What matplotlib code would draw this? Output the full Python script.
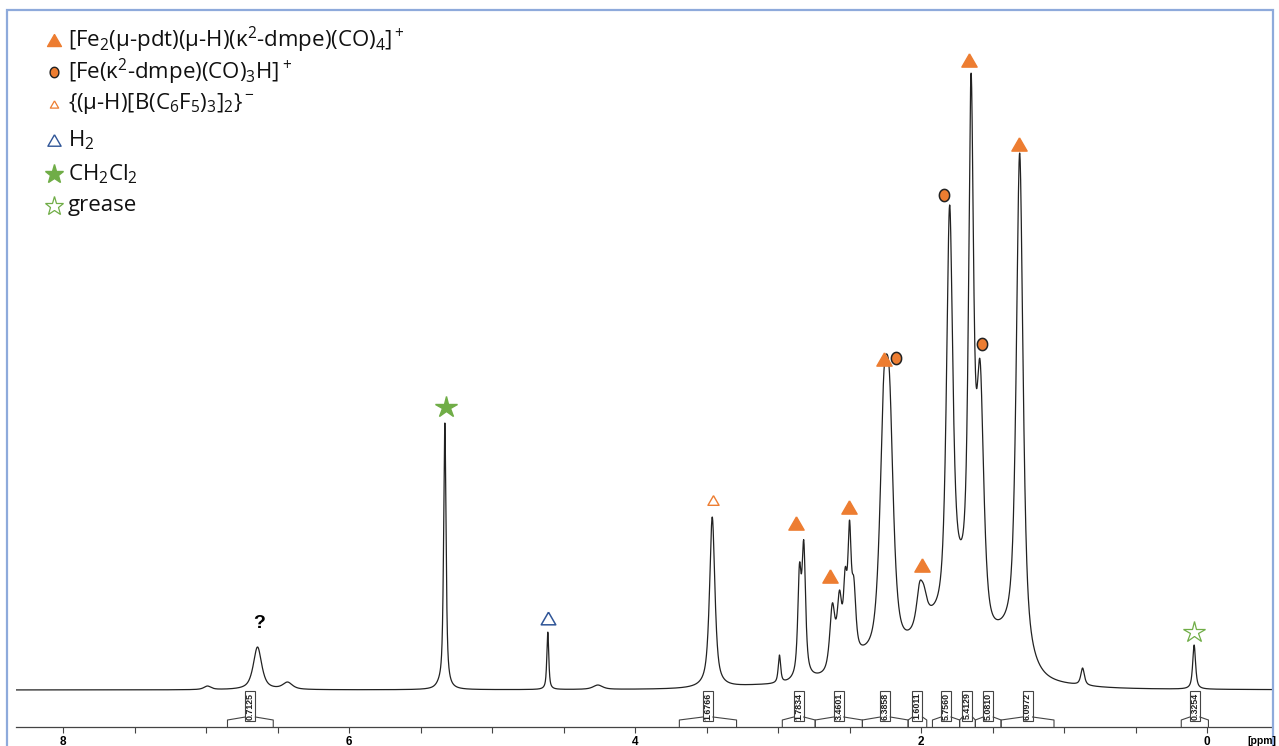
import numpy as np
import matplotlib
matplotlib.use("Agg")
import matplotlib.pyplot as plt
from matplotlib.patches import Rectangle

# ---------------- data ----------------
# signals: chemical shift (ppm), observed height above baseline at that shift (a.u.),
# half width (ppm), Lorentzian fraction of the line shape
peak_ppm = [6.99, 6.64, 6.43, 5.37, 5.33, 4.61, 4.26, 3.46, 3.46, 2.99,
            2.85, 2.82, 2.62, 2.57, 2.53, 2.50, 2.47, 2.26, 2.22, 2.01,
            1.98, 1.80, 1.65, 1.587, 1.31, 0.87, 0.09]
peak_height = [4, 43, 8, 14, 267, 58, 5, 173, 9, 35,
               127, 150, 87, 100, 123, 170, 113, 317, 315, 108,
               105, 485, 617, 330, 537, 22, 45]
peak_hwhm = [0.03, 0.035, 0.04, 0.025, 0.010, 0.008, 0.04, 0.022, 0.15, 0.010,
             0.014, 0.015, 0.022, 0.02, 0.015, 0.014, 0.017, 0.034, 0.034, 0.026,
             0.026, 0.026, 0.021, 0.031, 0.028, 0.015, 0.012]
peak_eta = [0.75] * 27

# broad underlying intensity between the multiplets (observed height at the valleys)
valley_ppm = [3.10, 2.73, 2.41, 2.10, 1.92, 1.73, 1.43, 1.05]
valley_height = [6, 17, 45, 60, 85, 152, 73, 10]
valley_hwhm = [0.3, 0.14, 0.12, 0.12, 0.12, 0.08, 0.15, 0.25]
valley_eta = [0.5, 0.2, 0.2, 0.2, 0.2, 0.2, 0.2, 0.5]

# integrals
integral_start = [6.85, 3.69, 2.97, 2.74, 2.41, 2.09, 1.92, 1.73, 1.62, 1.44, 0.18]
integral_end = [6.53, 3.29, 2.74, 2.41, 2.09, 1.96, 1.73, 1.62, 1.44, 1.07, -0.01]
integral_labels = ["0.7125", "1.6766", "1.7834", "3.4601", "6.3858", "1.6011",
                   "5.7560", "5.4129", "5.0810", "6.0972", "0.3254"]

# assignment markers (ppm, height)
fe2_ppm = [2.873, 2.636, 2.503, 2.259, 1.995, 1.664, 1.315]
fe2_y = [167, 114, 183, 331, 125, 630, 546]
fe1_ppm = [2.178, 1.840, 1.573]
fe1_y = [332, 495, 346]
bh_ppm = [3.455]
bh_y = [190]
h2_ppm = [4.61]
h2_y = [72]
dcm_ppm = [5.325]
dcm_y = [283]
grease_ppm = [0.091]
grease_y = [58]
unknown_ppm = [6.63]
unknown_y = [66]

legend_labels = [
    r"[Fe$_2$(μ-pdt)(μ-H)(κ$^2$-dmpe)(CO)$_4$]$^+$",
    r"[Fe(κ$^2$-dmpe)(CO)$_3$H]$^+$",
    r"{(μ-H)[B(C$_6$F$_5$)$_3$]$_2$}$^-$",
    r"H$_2$",
    r"CH$_2$Cl$_2$",
    "grease",
]

major_ticks = [8, 6, 4, 2, 0]

# ---------------- styling ----------------
plt.rcParams['font.family'] = ['Open Sans', 'DejaVu Sans']
plt.rcParams['mathtext.fontset'] = 'custom'
plt.rcParams['mathtext.rm'] = 'Open Sans'
plt.rcParams['mathtext.it'] = 'Open Sans:italic'
plt.rcParams['mathtext.bf'] = 'Open Sans:bold'

ORANGE = '#ED7D31'
BLUE = '#2F5597'
GREEN = '#70AD47'

W, H = 1279, 746
fig = plt.figure(figsize=(W / 100, H / 100), dpi=100)
ax = fig.add_axes([16 / W, 19 / H, 1256 / W, 707 / H])

# spectrum from the signal list
pp = np.array(peak_ppm + valley_ppm, float)
hh = np.array(peak_height + valley_height, float)
ww = np.array(peak_hwhm + valley_hwhm, float)
ee = np.array(peak_eta + valley_eta, float)


def shape(x, x0, w, eta):
    u = (x - x0) / w
    return eta / (1 + u ** 2) + (1 - eta) * np.exp(-np.log(2) * u ** 2)


M = shape(pp[:, None], pp[None, :], ww[None, :], ee[None, :])
amp = hh.copy()
for _ in range(8000):
    amp = np.clip(amp + 0.3 * (hh - M @ amp), 0, None)

x = np.linspace(8.34, -0.47, 8000)
y = (amp[None, :] * shape(x[:, None], pp[None, :], ww[None, :], ee[None, :])).sum(axis=1)
ax.plot(x, y, color='#222222', lw=0.9)

ax.set_xlim(8.329, -0.4545)
ax.set_ylim(-37, 670)

for s in ['top', 'left', 'right']:
    ax.spines[s].set_visible(False)
ax.spines['bottom'].set_color('#444444')
ax.spines['bottom'].set_linewidth(0.9)
ax.set_yticks([])
ax.set_xticks(major_ticks)
ax.set_xticklabels([str(t) for t in major_ticks], fontsize=8.5, fontweight='bold',
                   family='Liberation Sans')
ax.set_xticks(np.arange(0, 8.01, 0.5), minor=True)
ax.tick_params(axis='x', which='both', direction='out', length=4.3, width=0.8,
               color='#444444', pad=2.0)

# integrals
dx = 5 / 143
for s, e, lab in zip(integral_start, integral_end, integral_labels):
    xc = (s + e) / 2
    ax.plot([s, s, xc + dx], [-37, -30, -27], color='#444444', lw=0.8, clip_on=False)
    ax.plot([e, e, xc - dx], [-37, -30, -27], color='#444444', lw=0.8, clip_on=False)
    ax.add_patch(Rectangle((xc + dx, -31), -2 * dx, 30, facecolor='white',
                           edgecolor='#444444', lw=0.8, clip_on=False))
    ax.text(xc, -16, lab, rotation=90, ha='center', va='center', fontsize=6.4,
            fontweight='bold', family='Liberation Sans', color='#222222')

# markers on peaks
tri = [(0, 0.866), (-1, -0.866), (1, -0.866), (0, 0.866)]
th = np.linspace(0, 2 * np.pi, 60)
ell = list(zip(0.42 * np.cos(th), 0.5 * np.sin(th)))
ax.plot(fe2_ppm, fe2_y, ls='none', marker=tri, ms=11, color=ORANGE, mec=ORANGE)
ax.plot(fe1_ppm, fe1_y, ls='none', marker=ell, ms=8.8, color=ORANGE, mec='#222222', mew=1.1)
ax.plot(bh_ppm, bh_y, ls='none', marker=tri, ms=8, mfc='white', mec=ORANGE, mew=1.0)
ax.plot(h2_ppm, h2_y, ls='none', marker=tri, ms=10.5, mfc='white', mec=BLUE, mew=1.1)
ax.plot(dcm_ppm, dcm_y, ls='none', marker='*', ms=16, color=GREEN, mec=GREEN)
ax.plot(grease_ppm, grease_y, ls='none', marker='*', ms=16, mfc='white', mec=GREEN, mew=0.9)
ax.text(unknown_ppm[0], unknown_y[0], '?', ha='center', va='center', fontsize=14,
        fontweight='bold', family='Liberation Sans')

# legend (figure pixel positions)
rows = [40, 72, 104, 140, 174, 206]
mk = [dict(marker=tri, ms=10, color=ORANGE, mec=ORANGE),
      dict(marker=ell, ms=7.5, color=ORANGE, mec='#222222', mew=1.0),
      dict(marker=tri, ms=6, mfc='white', mec=ORANGE, mew=0.9),
      dict(marker=tri, ms=9.5, mfc='white', mec=BLUE, mew=1.0),
      dict(marker='*', ms=14, color=GREEN, mec=GREEN),
      dict(marker='*', ms=14, mfc='white', mec=GREEN, mew=0.9)]
for r, lab, m in zip(rows, legend_labels, mk):
    fy = (H - r) / H
    fig.add_artist(plt.Line2D([54 / W], [fy], ls='none', transform=fig.transFigure, **m))
    fig.text(68 / W, fy, lab, ha='left', va='center', fontsize=16, color='#111111')

fig.text(1262 / W, (H - 741) / H, '[ppm]', ha='center', va='center', fontsize=7.5,
         fontweight='bold', family='Liberation Sans')

# screenshot border
fig.add_artist(Rectangle((7 / W, -0.05), (1273 - 7) / W, (H - 10) / H + 0.05,
                         transform=fig.transFigure, fill=False, edgecolor='#8EAADB', lw=1.6))

fig.savefig('out.png', dpi=100)
